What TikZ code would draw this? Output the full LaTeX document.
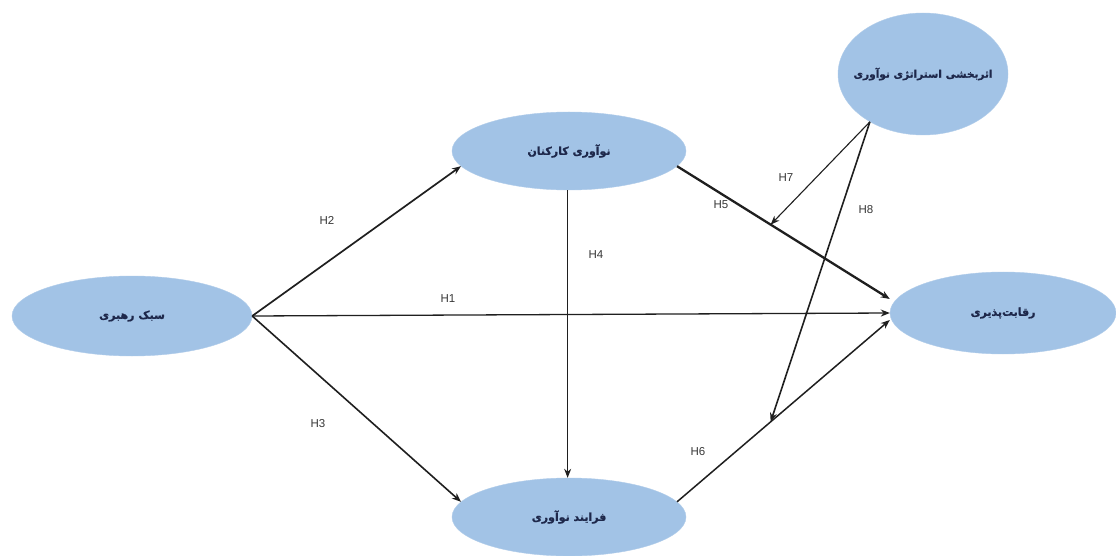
\documentclass[tikz,border=0pt]{standalone}
\usepackage{fontspec}
\setmainfont{Liberation Sans}
\newfontfamily\fafont[Script=Arabic,FakeBold=1.2]{DejaVu Sans}
\TeXXeTstate=1
\usetikzlibrary{shapes.geometric,arrows.meta,calc}
\definecolor{ellfill}{RGB}{162,195,230}
\definecolor{elltext}{RGB}{30,40,75}
\definecolor{lbl}{RGB}{55,55,55}
\begin{document}
\begin{tikzpicture}[x=1pt,y=1pt,
  var/.style={ellipse, fill=ellfill, draw=ellfill!85!white, inner sep=0pt,
    text=elltext, font=\fafont\bfseries\fontsize{11}{13}\selectfont},
  link/.style={draw=black!88, line width=1.3pt, -{Stealth[length=9pt,width=7pt]}},
  hlabel/.style={text=lbl, font=\fontsize{11.5}{13}\selectfont}]
\useasboundingbox (0,0) rectangle (1116,555);
\fill[white] (0,0) rectangle (1116,555);
% nodes
\node[var, minimum width=240pt, minimum height=80pt] (lead) at (132,239) {\beginR سبک رهبری\endR};
\node[var, minimum width=234pt, minimum height=78pt] (emp) at (569,404) {\beginR نوآوری کارکنان\endR};
\node[var, minimum width=234pt, minimum height=78pt] (proc) at (569,38) {\beginR فرایند نوآوری\endR};
\node[var, minimum width=226pt, minimum height=82pt] (comp) at (1003,242) {\beginR رقابت‌پذیری\endR};
\node[var, minimum width=170pt, minimum height=122pt, inner xsep=-14pt,
  font=\fafont\bfseries\fontsize{10.5}{12}\selectfont] (eff) at (923,481) {\beginR اثربخشی استراتژی نوآوری\endR};
% connectors
\coordinate (c5) at ([yshift=14pt]comp.west);
\coordinate (c6) at ([yshift=-7pt]comp.west);
\draw[link, line width=1.7pt] (lead.east) -- (emp.188);
\draw[link, line width=1.6pt] (lead.east) -- (proc.172);
\draw[link] (lead.east) -- (comp.west);
\draw[link] (emp.268) -- (proc.92);
\draw[link, line width=2.3pt] (emp.-8) -- (c5);
\draw[link, line width=1.5pt] (proc.8) -- (c6);
\coordinate (m5) at ($(emp.-8)!0.44!(c5)$);
\coordinate (m6) at ($(proc.8)!0.44!(c6)$);
\draw[link, line width=1.1pt] (eff.222) -- (m5);
\draw[link, line width=1.6pt] (eff.222) -- (m6);
% labels
\node[hlabel] (h1) at (448,256) {H1};
\node[hlabel] (h2) at (327,335) {H2};
\node[hlabel] (h3) at (318,131) {H3};
\node[hlabel] (h4) at (596,300) {H4};
\node[hlabel] (h5) at (721,350) {H5};
\node[hlabel] (h6) at (698,103) {H6};
\node[hlabel] (h7) at (786,377) {H7};
\node[hlabel] (h8) at (866,345) {H8};
\end{tikzpicture}
\end{document}
